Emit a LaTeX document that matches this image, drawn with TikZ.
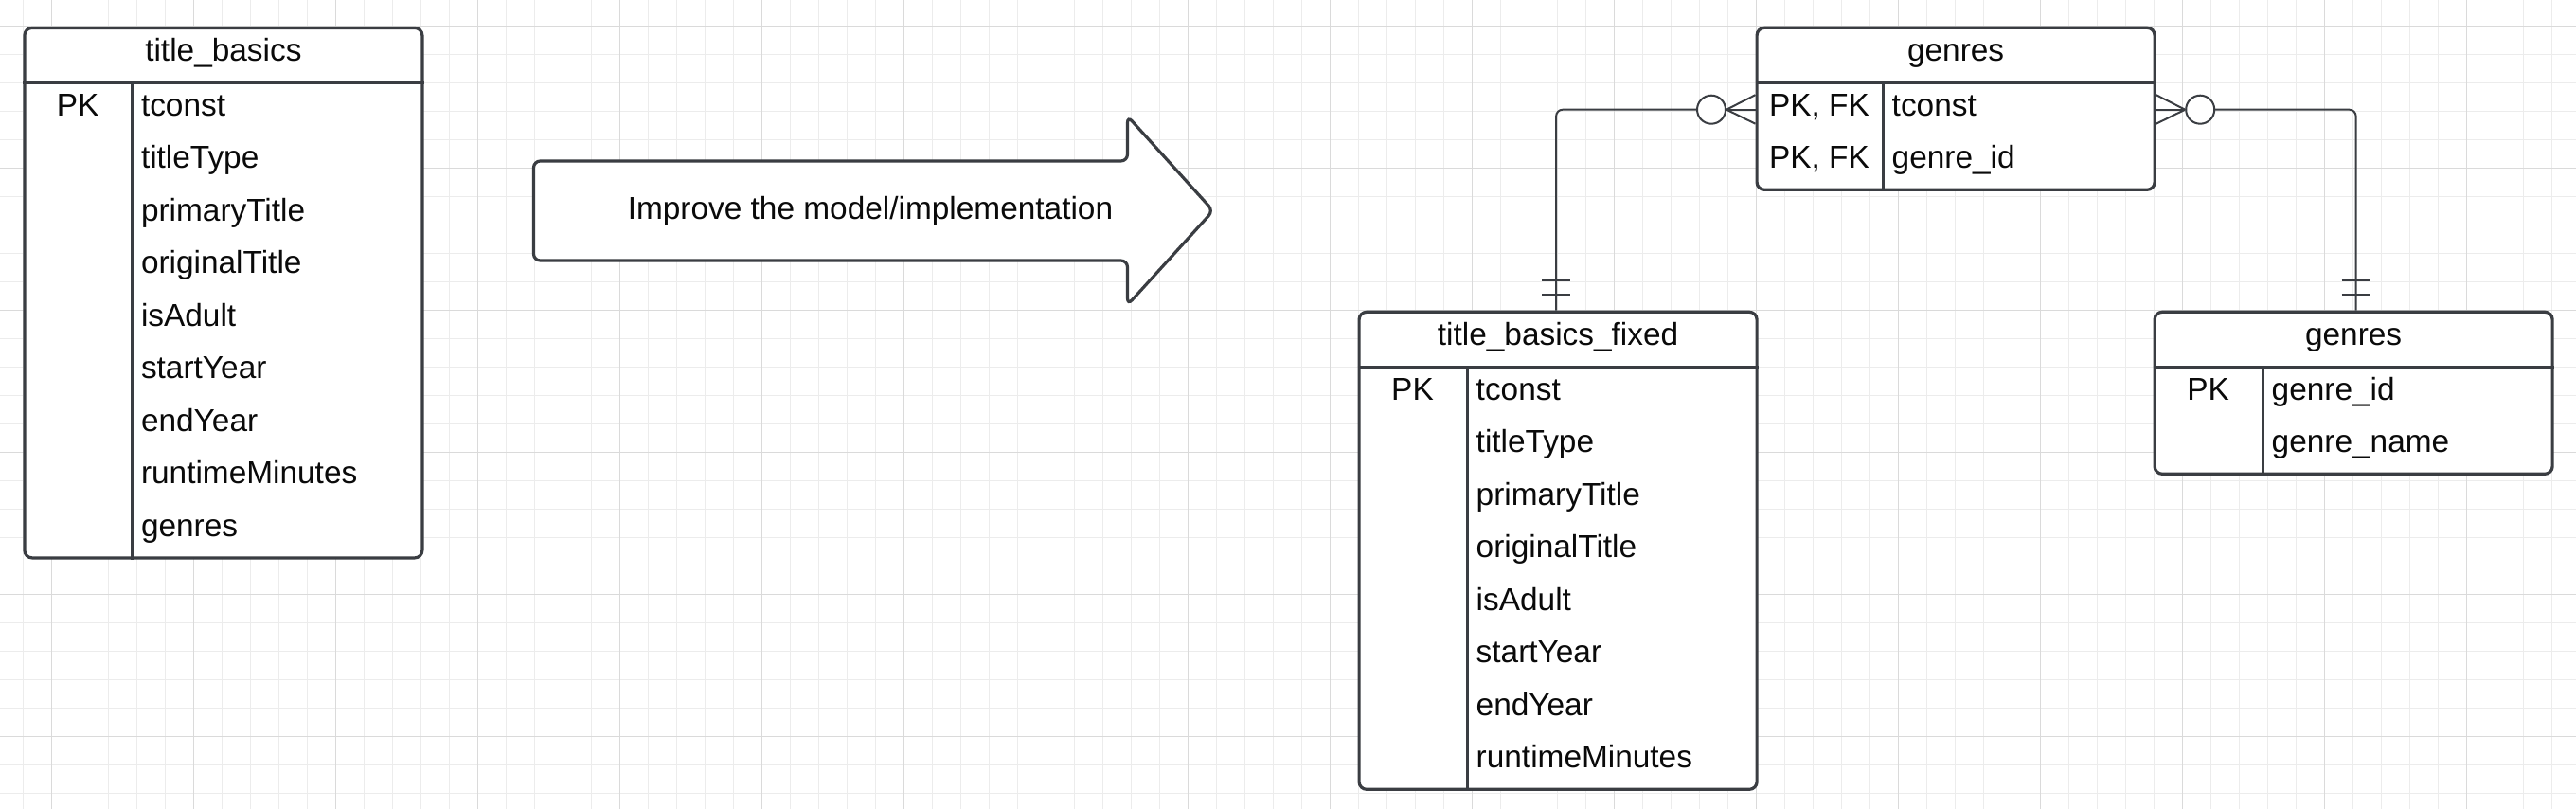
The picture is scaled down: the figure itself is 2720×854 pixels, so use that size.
\documentclass[tikz,border=0pt]{standalone}
\usepackage{fontspec}
\setmainfont{Liberation Sans}
\usetikzlibrary{calc}
\definecolor{bordercol}{RGB}{58,61,66}
\definecolor{textcol}{RGB}{10,10,10}
\definecolor{gridminor}{RGB}{236,236,236}
\definecolor{gridmajor}{RGB}{218,218,218}
\tikzset{
  minorline/.style={draw=gridminor, line width=1.2pt},
  majorline/.style={draw=gridmajor, line width=1.5pt},
  tablebox/.style={draw=bordercol, line width=3.2pt, fill=white, rounded corners=8pt,
    minimum width=420pt, inner sep=0pt, anchor=north west},
  rule/.style={draw=bordercol, line width=3pt},
  txt/.style={font=\fontsize{33.4}{40}\selectfont, text=textcol, inner sep=0pt},
  keytxt/.style={txt, anchor=base},
  nametxt/.style={txt, anchor=base west},
  conn/.style={draw=bordercol, line width=2pt},
  bigarrow/.style={draw=bordercol, line width=3.2pt, fill=white, rounded corners=7pt},
  crowcircle/.style={circle, conn, fill=white, minimum size=30pt, inner sep=0pt},
}
% #1 name, #2 left, #3 top, #4 rows, #5 key column width, #6 title
\newcommand\ertable[6]{%
  \pgfmathsetmacro\erh{60+55.5*#4}%
  \node[tablebox, minimum height=\erh pt] (#1) at (#2,#3) {};
  \draw[rule] ($(#1.north west)+(0,60)$) -- ($(#1.north east)+(0,60)$);
  \draw[rule] ($(#1.north west)+(#5,60)$) -- ($(#1.south west)+(#5,0)$);
  \node[keytxt] (#1-title) at ($(#1.north)+(0,37)$) {#6};
}
% #1 table, #2 row index, #3 key column width, #4 text
\newcommand\erkey[4]{%
  \node[keytxt] (#1-k#2) at ($(#1.north west)+(#3/2,94.3+55.5*#2)$) {#4};
}
\newcommand\erfield[4]{%
  \node[nametxt] (#1-f#2) at ($(#1.north west)+(#3+9,94.3+55.5*#2)$) {#4};
}
\begin{document}
\begin{tikzpicture}[x=1pt, y=-1pt]
\useasboundingbox (0,0) rectangle (2720,854);
\fill[white] (0,0) rectangle (2720,854);
% grid
\foreach \i in {0,...,90} \draw[minorline] ({24.3+30*\i},0) -- ({24.3+30*\i},854);
\foreach \j in {0,...,27} \draw[minorline] (0,{27.3+30*\j}) -- (2720,{27.3+30*\j});
\foreach \i in {0,...,17} \draw[majorline] ({54.3+150*\i},0) -- ({54.3+150*\i},854);
\foreach \j in {0,...,5} \draw[majorline] (0,{27.3+150*\j}) -- (2720,{27.3+150*\j});

% big arrow
\draw[bigarrow] (563.5,170) -- (1190.5,170) -- (1190.5,122.5) -- (1281,222.5)
  -- (1190.5,322) -- (1190.5,275) -- (563.5,275) -- cycle;
\node[txt, anchor=base] (arrowtext) at (919,231) {Improve the model/implementation};

% title_basics
\ertable{tb}{24.3}{27.8}{9}{115.5}{title\_basics}
\erkey{tb}{0}{115.5}{PK}
\erfield{tb}{0}{115.5}{tconst}
\erfield{tb}{1}{115.5}{titleType}
\erfield{tb}{2}{115.5}{primaryTitle}
\erfield{tb}{3}{115.5}{originalTitle}
\erfield{tb}{4}{115.5}{isAdult}
\erfield{tb}{5}{115.5}{startYear}
\erfield{tb}{6}{115.5}{endYear}
\erfield{tb}{7}{115.5}{runtimeMinutes}
\erfield{tb}{8}{115.5}{genres}

% genres (junction)
\ertable{gm}{1853.5}{27.7}{2}{135}{genres}
\erkey{gm}{0}{135}{PK, FK}
\erkey{gm}{1}{135}{PK, FK}
\erfield{gm}{0}{135}{tconst}
\erfield{gm}{1}{135}{genre\_id}

% title_basics_fixed
\ertable{tbf}{1433.5}{327.7}{8}{116}{title\_basics\_fixed}
\erkey{tbf}{0}{116}{PK}
\erfield{tbf}{0}{116}{tconst}
\erfield{tbf}{1}{116}{titleType}
\erfield{tbf}{2}{116}{primaryTitle}
\erfield{tbf}{3}{116}{originalTitle}
\erfield{tbf}{4}{116}{isAdult}
\erfield{tbf}{5}{116}{startYear}
\erfield{tbf}{6}{116}{endYear}
\erfield{tbf}{7}{116}{runtimeMinutes}

% genres (lookup)
\ertable{gr}{2273.5}{327.7}{2}{116}{genres}
\erkey{gr}{0}{116}{PK}
\erfield{gr}{0}{116}{genre\_id}
\erfield{gr}{1}{116}{genre\_name}

% connector: title_basics_fixed -- genres (junction)
\coordinate (gmL) at ($(gm.north west)+(0,88)$);
\coordinate (tbfT) at ($(tbf.north)+(-2,0)$);
\node[crowcircle] (c1) at ($(gmL)+(-46.5,0)$) {};
\draw[conn] (c1.east) -- ($(gmL)+(0,-15.5)$);
\draw[conn] (c1.east) -- (gmL);
\draw[conn] (c1.east) -- ($(gmL)+(0,15)$);
\draw[conn, rounded corners=7pt] (c1.west) -| (tbfT);
\draw[conn] ($(tbfT)+(-15,-31.7)$) -- ++(30,0);
\draw[conn] ($(tbfT)+(-15,-16.4)$) -- ++(30,0);

% connector: genres (lookup) -- genres (junction)
\coordinate (gmR) at ($(gm.north east)+(0,88)$);
\coordinate (grT) at ($(gr.north)+(2.5,0)$);
\node[crowcircle] (c2) at ($(gmR)+(46.5,0)$) {};
\draw[conn] (c2.west) -- ($(gmR)+(0,-15.5)$);
\draw[conn] (c2.west) -- (gmR);
\draw[conn] (c2.west) -- ($(gmR)+(0,15)$);
\draw[conn, rounded corners=7pt] (c2.east) -| (grT);
\draw[conn] ($(grT)+(-15,-31.7)$) -- ++(30,0);
\draw[conn] ($(grT)+(-15,-16.4)$) -- ++(30,0);
\end{tikzpicture}
\end{document}
